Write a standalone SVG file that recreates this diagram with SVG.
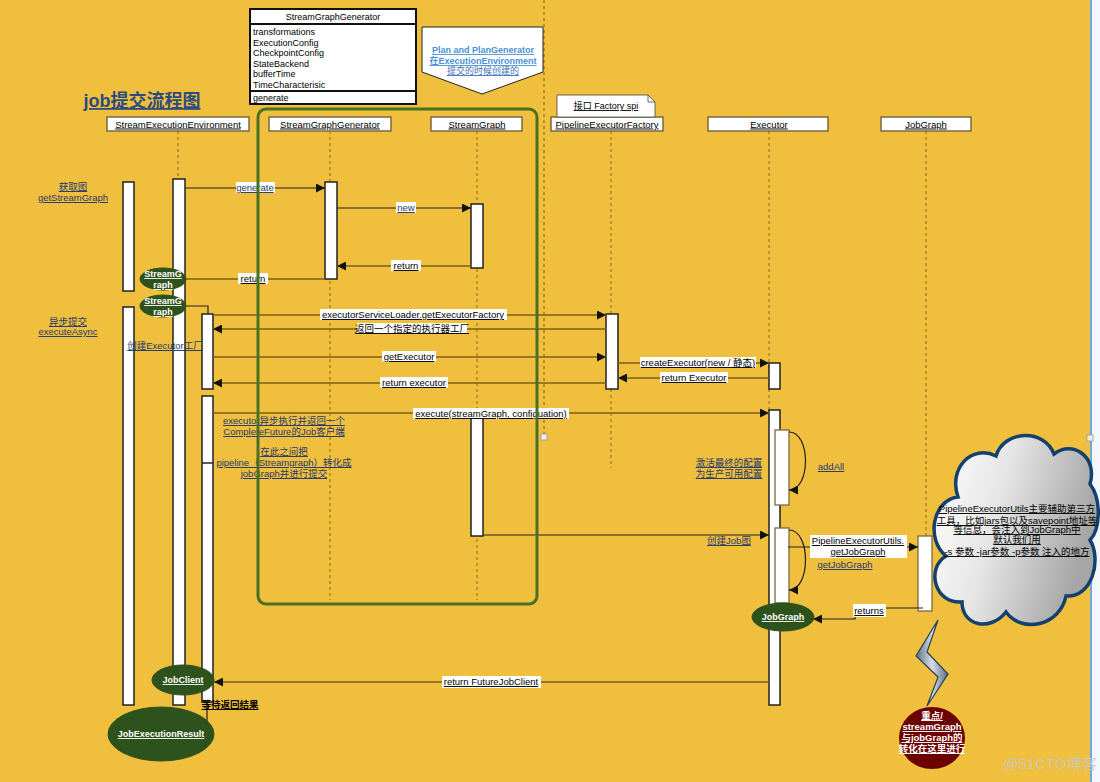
<svg xmlns="http://www.w3.org/2000/svg" width="1100" height="782" viewBox="0 0 1100 782">
<defs>
<style>
text{font-family:"Liberation Sans","Noto Sans CJK SC",sans-serif;font-size:9.5px;}
.u{text-decoration:underline;}
.c{text-anchor:middle;}
.hdr{fill:#fff;stroke:#7A6A40;stroke-width:1.5;}
.life{stroke:#8A6A10;stroke-width:1;stroke-dasharray:3,3;fill:none;}
.bar{fill:#fff;stroke:#222;stroke-width:1.5;}
.bar2{fill:#fff;stroke:#7A6A40;stroke-width:1.3;}
.call{stroke:#222;stroke-width:1.2;fill:none;}
.ret{stroke:#7A6018;stroke-width:1.5;fill:none;}
.lbg{fill:#fff;}
.blue{fill:#1F3A6E;}
.ell{fill:#2D521C;stroke:#2D521C;}
.wt{fill:#fff;font-weight:bold;}
</style>
<marker id="a" viewBox="0 0 10 10" refX="10" refY="5" markerWidth="9" markerHeight="9" orient="auto" markerUnits="userSpaceOnUse"><path d="M0,0L10,5L0,10z" fill="#111"/></marker>
<linearGradient id="cg" x1="0" y1="0" x2="1" y2="0.3"><stop offset="0" stop-color="#FFFFFF"/><stop offset="0.45" stop-color="#E6E6E6"/><stop offset="1" stop-color="#A6A6A6"/></linearGradient>
<linearGradient id="lg" x1="0" y1="0" x2="1" y2="0"><stop offset="0" stop-color="#5A6E80"/><stop offset="0.5" stop-color="#D8DEE4"/><stop offset="1" stop-color="#5A6E80"/></linearGradient>
</defs>

<rect x="0" y="0" width="1100" height="782" fill="#F0BF3E"/>
<rect x="1092" y="0" width="8" height="782" fill="#F3F7FB"/>
<line x1="1091" y1="0" x2="1091" y2="782" stroke="#6AAAE0" stroke-width="2"/>
<line x1="544" y1="0" x2="544" y2="437" stroke="#7A6018" stroke-width="1" stroke-dasharray="3,3"/>
<rect x="541" y="434" width="6" height="6" fill="#eee" stroke="#999" stroke-width="0.8"/>
<rect x="1087" y="435" width="6" height="6" fill="#eee" stroke="#999" stroke-width="0.8"/>

<text x="142" y="107" class="c u" style="font-size:18px;font-weight:bold;fill:#2B4C7E">job提交流程图</text>

<!-- lifelines -->
<g id="lifelines">
<line class="life" x1="178" y1="131" x2="178" y2="182"/>
<line class="life" x1="330" y1="131" x2="330" y2="600"/>
<line class="life" x1="477" y1="131" x2="477" y2="600"/>
<line class="life" x1="611" y1="131" x2="611" y2="468"/>
<line class="life" x1="769" y1="131" x2="769" y2="410"/>
<line class="life" x1="926" y1="131" x2="926" y2="536"/>
</g>

<!-- headers -->
<g id="hdr-see"><rect class="hdr" x="107" y="117" width="142" height="14"/><text x="178" y="127.5" class="c u">StreamExecutionEnvironment</text></g>
<g id="hdr-sgg"><rect class="hdr" x="269" y="117" width="122" height="14"/><text x="330" y="127.5" class="c u">StreamGraphGenerator</text></g>
<g id="hdr-sg"><rect class="hdr" x="431" y="117" width="91" height="14"/><text x="477" y="127.5" class="c u">StreamGraph</text></g>
<g id="hdr-pef"><rect class="hdr" x="551" y="117" width="112" height="14"/><text x="607" y="127.5" class="c u">PipelineExecutorFactory</text></g>
<g id="hdr-exec"><rect class="hdr" x="708" y="117" width="120" height="14"/><text x="769" y="127.5" class="c u">Executor</text></g>
<g id="hdr-jg"><rect class="hdr" x="881" y="117" width="90" height="14"/><text x="926" y="127.5" class="c u">JobGraph</text></g>

<!-- class box -->
<g id="sgg-class">
<rect x="250" y="9" width="166" height="95" fill="#fff" stroke="#111" stroke-width="2"/>
<line x1="250" y1="24" x2="416" y2="24" stroke="#111" stroke-width="2"/>
<line x1="250" y1="91" x2="416" y2="91" stroke="#111" stroke-width="2"/>
<text x="333" y="20" class="c" style="font-size:9px">StreamGraphGenerator</text>
<text x="253" y="35" style="font-size:9px">transformations</text>
<text x="253" y="46" style="font-size:9px">ExecutionConfig</text>
<text x="253" y="56" style="font-size:9px">CheckpointConfig</text>
<text x="253" y="67" style="font-size:9px">StateBackend</text>
<text x="253" y="77" style="font-size:9px">bufferTime</text>
<text x="253" y="88" style="font-size:9px">TimeCharacterisic</text>
<text x="253" y="101" style="font-size:9px">generate</text>
</g>

<!-- callout -->
<g id="plan-note">
<path d="M422,27H543V72L482,94L422,72Z" fill="#fff" stroke="#222" stroke-width="1"/>
<text x="483" y="53" class="c u" style="font-size:9px;font-weight:bold;fill:#4A8FD8">Plan and PlanGenerator</text>
<text x="483" y="64" class="c u" style="font-size:9px;font-weight:bold;fill:#4A8FD8">在ExecutionEnvironment</text>
<text x="483" y="74" class="c u" style="font-size:9px;fill:#3A70B8">提交的时候创建的</text>
</g>
<g id="spi-note">
<path d="M557,95H648L655,102V117H557Z" fill="#fff" stroke="#444" stroke-width="0.8"/>
<path d="M648,95V102H655" fill="none" stroke="#444" stroke-width="0.8"/>
<text x="606" y="109" class="c u" style="font-size:9px">接口 Factory spi</text>
</g>

<!-- activation bars -->
<g id="bars">
<rect class="bar" x="123" y="182" width="11" height="109"/>
<rect class="bar" x="123" y="307" width="11" height="398"/>
<rect class="bar" x="173" y="179" width="12" height="526"/>
<rect class="bar" x="202" y="314" width="11" height="75"/>
<rect class="bar" x="202" y="396" width="11" height="306"/>
<line x1="202" y1="463" x2="213" y2="463" stroke="#222" stroke-width="1.5"/>
<rect class="bar" x="325" y="182" width="12" height="97"/>
<rect class="bar" x="471" y="204" width="12" height="64"/>
<rect class="bar" x="471" y="418" width="12" height="118"/>
<rect class="bar" x="606" y="314" width="12" height="75"/>
<rect class="bar" x="769" y="363" width="11" height="26"/>
<rect class="bar" x="769" y="410" width="11" height="295"/>
<rect class="bar2" x="775" y="430" width="14" height="75"/>
<rect class="bar2" x="775" y="528" width="14" height="75"/>
<rect class="bar2" x="918" y="536" width="14" height="75"/>
</g>

<!-- connectors -->
<g id="connectors">
<line class="call" x1="185" y1="188" x2="325" y2="188" marker-end="url(#a)"/>
<line class="call" x1="337" y1="208" x2="471" y2="208" marker-end="url(#a)"/>
<line class="ret" x1="471" y1="266" x2="337" y2="266" marker-end="url(#a)"/>
<line class="ret" x1="325" y1="279" x2="186" y2="279"/>
<path class="call" d="M185,306H208V314"/>
<line class="ret" x1="213" y1="315" x2="606" y2="315" marker-end="url(#a)"/>
<line class="ret" x1="606" y1="329" x2="213" y2="329" marker-end="url(#a)"/>
<line class="ret" x1="213" y1="357" x2="606" y2="357" marker-end="url(#a)"/>
<line class="ret" x1="606" y1="383" x2="213" y2="383" marker-end="url(#a)"/>
<line class="ret" x1="618" y1="363" x2="769" y2="363" marker-end="url(#a)"/>
<line class="ret" x1="769" y1="378" x2="618" y2="378" marker-end="url(#a)"/>
<line class="ret" x1="213" y1="413" x2="769" y2="413" marker-end="url(#a)"/>
<line class="call" x1="483" y1="535" x2="769" y2="535" marker-end="url(#a)"/>
<path class="call" d="M789,432C811,432 811,490 789,490" marker-end="url(#a)"/>
<path class="call" d="M789,530C811,530 811,590 789,590" marker-end="url(#a)"/>
<line class="call" x1="788" y1="547" x2="918" y2="547" marker-end="url(#a)"/>
<path class="call" d="M923,608H855V619H813" marker-end="url(#a)"/>
<line class="ret" x1="769" y1="682" x2="214" y2="682" marker-end="url(#a)"/>
<path class="call" d="M207,702V722"/>
</g>

<!-- message labels -->
<g id="labels">
<rect class="lbg" x="236" y="182" width="39" height="11"/><text x="255" y="191" class="c u blue">generate</text>
<rect class="lbg" x="396" y="202" width="20" height="11"/><text x="406" y="211" class="c u blue">new</text>
<rect class="lbg" x="391" y="260" width="30" height="11"/><text x="406" y="269" class="c u">return</text>
<rect class="lbg" x="238" y="273" width="30" height="11"/><text x="253" y="282" class="c u">return</text>
<rect class="lbg" x="320" y="309" width="187" height="11"/><text x="413" y="318" class="c u">executorServiceLoader.getExecutorFactory</text>
<rect class="lbg" x="357" y="323" width="110" height="11"/><text x="412" y="332" class="c u">返回一个指定的执行器工厂</text>
<rect class="lbg" x="382" y="351" width="54" height="11"/><text x="409" y="360" class="c u">getExecutor</text>
<rect class="lbg" x="380" y="377" width="68" height="11"/><text x="414" y="386" class="c u">return executor</text>
<rect class="lbg" x="640" y="357" width="116" height="11"/><text x="698" y="366" class="c u">createExecutor(new / 静态)</text>
<rect class="lbg" x="660" y="372" width="68" height="11"/><text x="694" y="381" class="c u">return Executor</text>
<rect class="lbg" x="413" y="408" width="156" height="11"/><text x="491" y="417" class="c u">execute(streamGraph, configuation)</text>
<rect class="lbg" x="810" y="535" width="97" height="23"/>
<text x="858" y="544" class="c u">PipelineExecutorUtils.</text>
<text x="858" y="555" class="c u">getJobGraph</text>
<rect class="lbg" x="853" y="604" width="33" height="13"/><text x="869" y="614" class="c u">returns</text>
<rect class="lbg" x="442" y="676" width="99" height="12"/><text x="491" y="685" class="c u">return FutureJobClient</text>

<text x="73" y="190" class="c u blue">获取图</text>
<text x="73" y="201" class="c u blue">getStreamGraph</text>
<text x="68" y="325" class="c u blue">异步提交</text>
<text x="68" y="335" class="c u blue">executeAsync</text>
<text x="165" y="349" class="c u blue">创建Executor工厂</text>
<text x="284" y="424" class="c u blue">executor异步执行并返回一个</text>
<text x="284" y="435" class="c u blue">CompleteFuture的Job客户端</text>
<text x="284" y="455" class="c u blue">在此之间把</text>
<text x="284" y="466" class="c u blue">pipeline（Streamgraph）转化成</text>
<text x="284" y="477" class="c u blue">jobGraph并进行提交</text>
<text x="729" y="466" class="c u blue">激活最终的配置</text>
<text x="729" y="477" class="c u blue">为生产可用配置</text>
<text x="831" y="470" class="c u blue">addAll</text>
<text x="729" y="544" class="c u blue">创建Job图</text>
<text x="845" y="568" class="c u blue">getJobGraph</text>
<text x="230" y="708" class="c u" style="font-weight:bold">等待返回结果</text>
</g>

<!-- green frame -->
<rect x="258" y="109" width="279" height="495" rx="8" fill="none" stroke="#4A7023" stroke-width="3"/>

<!-- ellipses -->
<g id="sg-ell1"><ellipse class="ell" cx="163" cy="279" rx="23" ry="11"/><text x="163" y="277" class="c u wt" style="font-size:9px">StreamG</text><text x="163" y="288" class="c u wt" style="font-size:9px">raph</text></g>
<g id="sg-ell2"><ellipse class="ell" cx="163" cy="306" rx="23" ry="11"/><text x="163" y="304" class="c u wt" style="font-size:9px">StreamG</text><text x="163" y="315" class="c u wt" style="font-size:9px">raph</text></g>
<g id="jobclient"><ellipse class="ell" cx="183" cy="680" rx="31" ry="15"/><text x="183" y="683" class="c u wt" style="font-size:9px">JobClient</text></g>
<g id="jobresult"><ellipse class="ell" cx="161" cy="734" rx="53" ry="27"/><text x="161" y="737" class="c u wt" style="font-size:9px">JobExecutionResult</text></g>
<g id="jobgraph-ell"><ellipse class="ell" cx="783" cy="617" rx="31" ry="14"/><text x="783" y="620" class="c u wt" style="font-size:9px">JobGraph</text></g>

<!-- cloud -->
<g id="cloud">
<path d="M962,602C934,604 926,568 946,556C926,540 932,500 958,497C948,468 972,444 996,456C1004,430 1044,428 1054,454C1072,440 1098,456 1090,484C1102,500 1100,530 1090,540C1102,560 1092,598 1066,596C1060,626 1022,634 1006,612C990,632 962,626 962,602Z" fill="url(#cg)" stroke="#14406E" stroke-width="3.5"/>
<text x="1017" y="512" class="c u" style="font-size:9.5px">PipelineExecutorUtils主要辅助第三方</text>
<text x="1017" y="524" class="c u" style="font-size:9.5px">工具，比如jars包以及savepoint地址等</text>
<text x="1017" y="533" class="c u" style="font-size:9.5px">等信息，会注入到JobGraph中</text>
<text x="1017" y="543" class="c u" style="font-size:9.5px">默认我们用</text>
<text x="1017" y="555" class="c u" style="font-size:9.5px">-s 参数 -jar参数 -p参数 注入的地方</text>
</g>

<!-- lightning -->
<g id="bolt"><polygon points="938,620 916,656 938,677 927,706 948,674 927,652" fill="url(#lg)" stroke="#1F3F5F" stroke-width="1.2"/></g>

<!-- key circle -->
<g id="key">
<ellipse cx="932" cy="738" rx="33" ry="31" fill="#6B0000"/>
<text x="932" y="719" class="c u wt" style="font-size:9.5px">重点/</text>
<text x="932" y="730" class="c u wt" style="font-size:9.5px">streamGraph</text>
<text x="932" y="741" class="c u wt" style="font-size:9.5px">与jobGraph的</text>
<text x="932" y="752" class="c u wt" style="font-size:9.5px">转化在这里进行</text>
</g>

<text x="1050" y="769" class="c" style="font-size:15px;fill:#C8C8C8;opacity:0.85">@51CTO博客</text>
</svg>
